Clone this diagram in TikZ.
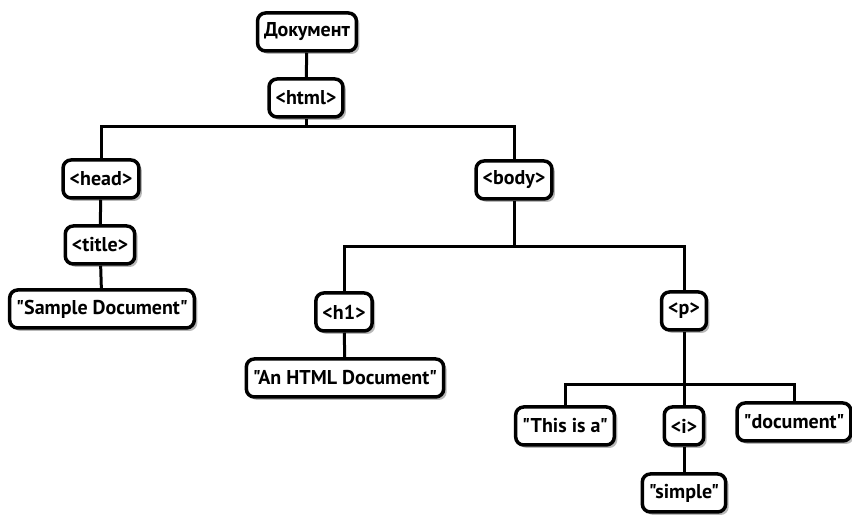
\documentclass[tikz,border=0pt]{standalone}
\usepackage{fontspec}
\setmainfont{PT Sans}[Ligatures=TeXOff]
\usetikzlibrary{shadows}
\begin{document}
\begin{tikzpicture}[x=1pt,y=1pt,
  tag/.style={draw=drawColor,line width=3.5pt,rounded corners=8pt,fill=white,
    inner xsep=6.5pt,inner ysep=5pt,minimum height=38pt,text=drawColor,
    font=\bfseries\fontsize{20}{24}\selectfont,
    drop shadow={shadow xshift=3pt,shadow yshift=-3pt,fill=black!55}},
  branch/.style={draw=drawColor,line width=3pt,line join=miter}]
\definecolor{drawColor}{RGB}{0,0,0}
\path[use as bounding box,fill=white] (0,0) rectangle (852,518);

\node[tag] (doc) at (307,486) {Документ};
\node[tag] (html) at (306,420) {<html>};
\node[tag] (head) at (101,339) {<head>};
\node[tag] (body) at (514,338) {<body>};
\node[tag] (title) at (100,273) {<title>};
\node[tag] (sample) at (102,209) {"Sample Document"};
\node[tag] (h1) at (344,206) {<h1>};
\node[tag] (p) at (684,207) {<p>};
\node[tag] (htmldoc) at (345,140) {"An HTML Document"};
\node[tag] (thisis) at (565,92) {"This is a"};
\node[tag] (i) at (684,92) {<i>};
\node[tag] (document) at (794,96) {"document"};
\node[tag] (simple) at (684,25) {"simple"};

\coordinate (htmlfork) at (306,391);
\coordinate (bodyfork) at (514,271);
\coordinate (pfork) at (684,133);

\path[branch] (doc) -- (html);
\path[branch] (html) -- (htmlfork);
\path[branch] (head) |- (htmlfork) -| (body);
\path[branch] (head) -- (title);
\path[branch] (title) -- (sample);
\path[branch] (body) -- (bodyfork);
\path[branch] (h1) |- (bodyfork) -| (p);
\path[branch] (h1) -- (htmldoc);
\path[branch] (p) -- (i);
\path[branch] (thisis) |- (pfork) -| (document);
\path[branch] (i) -- (simple);
\end{tikzpicture}
\end{document}
